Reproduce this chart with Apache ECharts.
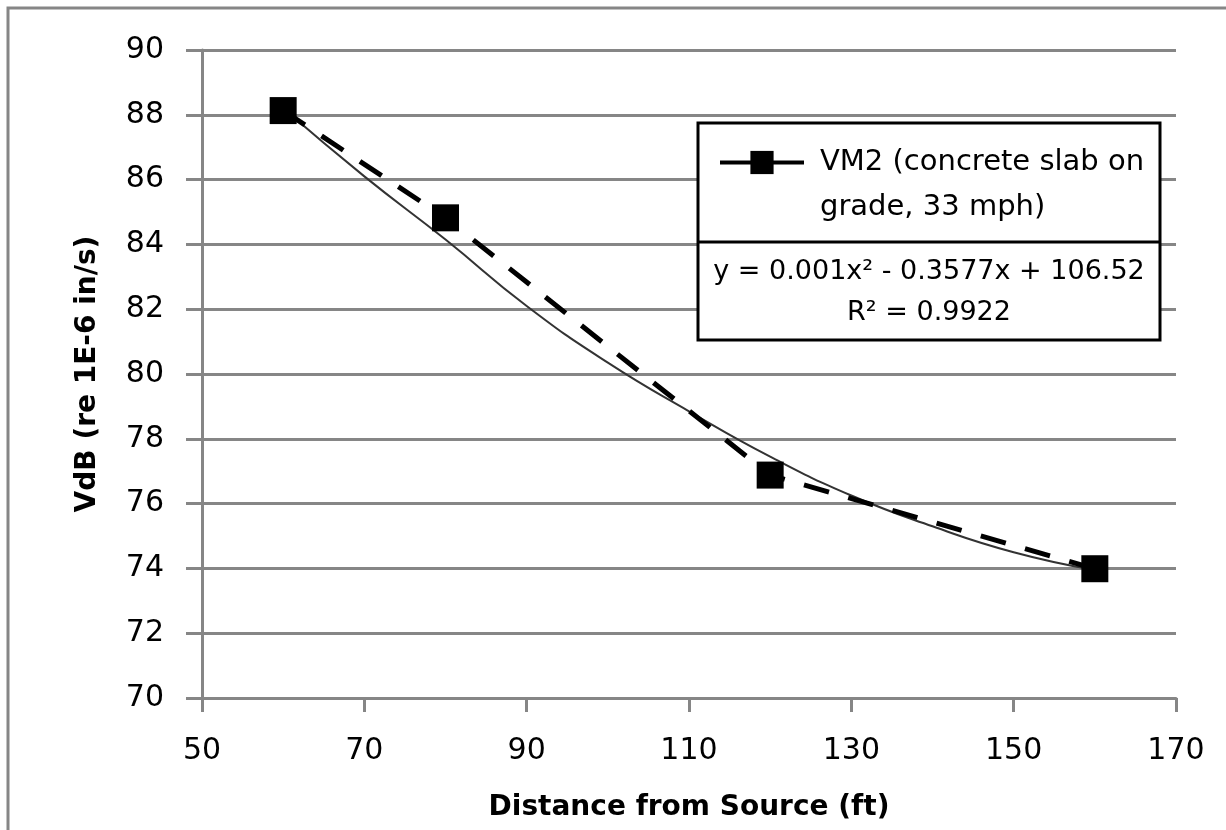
<!DOCTYPE html>
<html>
<head>
<meta charset="utf-8">
<script src="https://cdn.jsdelivr.net/npm/echarts@6/dist/echarts.min.js"></script>
<style>
html,body{margin:0;padding:0;background:#fff;}
#chart{width:1226px;height:830px;}
</style>
</head>
<body>
<div id="chart"></div>
<script>
// ---- data ----
const distances = [60, 80, 120, 160];
const vdb = [88.13, 84.82, 76.88, 73.99];
const trendX = [60, 70, 80, 90, 100, 110, 120, 130, 140, 150, 160];
const trendY = [88.2, 86.1, 84.15, 82.1, 80.35, 78.85, 77.45, 76.25, 75.3, 74.5, 73.95];
const xMin = 50, xMax = 170, xStep = 20;
const yMin = 70, yMax = 90, yStep = 2;
const seriesName = 'VM2 (concrete slab on grade, 33 mph)';
const legendLines = ['VM2 (concrete slab on', 'grade, 33 mph)'];
const trendEquation = 'y = 0.001x\u00B2 - 0.3577x + 106.52';
const rSquared = 'R\u00B2 = 0.9922';
const xTitle = 'Distance from Source (ft)';
const yTitle = 'VdB (re 1E-6 in/s)';

const FONT = 'DejaVu Sans';
const GRID = '#868686';

const chart = echarts.init(document.getElementById('chart'), null, {renderer: 'canvas'});

const option = {
  animation: false,
  backgroundColor: '#ffffff',
  textStyle: {fontFamily: FONT},
  grid: {left: 202, top: 50, right: 50, bottom: 132, containLabel: false},
  xAxis: {
    type: 'value', min: xMin, max: xMax, interval: xStep,
    name: xTitle, nameLocation: 'middle', nameGap: 96,
    nameTextStyle: {fontFamily: FONT, fontWeight: 'bold', fontSize: 28, color: '#000'},
    axisLine: {show: true, lineStyle: {color: GRID, width: 3}},
    axisTick: {show: true, length: 14, lineStyle: {color: GRID, width: 3}},
    axisLabel: {fontFamily: FONT, fontSize: 30, color: '#000', margin: 38},
    splitLine: {show: false}
  },
  yAxis: {
    type: 'value', min: yMin, max: yMax, interval: yStep,
    name: yTitle, nameLocation: 'middle', nameGap: 100, nameRotate: 90,
    nameTextStyle: {fontFamily: FONT, fontWeight: 'bold', fontSize: 28, color: '#000'},
    axisLine: {show: true, lineStyle: {color: GRID, width: 3}},
    axisTick: {show: true, length: 16, lineStyle: {color: GRID, width: 3}},
    axisLabel: {fontFamily: FONT, fontSize: 30, color: '#000', margin: 38},
    splitLine: {show: true, lineStyle: {color: GRID, width: 3}}
  },
  legend: {
    show: true,
    z: 30,
    data: [seriesName],
    left: 718, top: 95,
    padding: 0,
    itemWidth: 84, itemHeight: 29,
    formatter: () => '\n' + legendLines.join('\n'),
    textStyle: {fontFamily: FONT, fontSize: 29, color: '#000', lineHeight: 45, padding: [0, 0, 0, 11]},
    lineStyle: {type: [32, 8, 100], width: 4},
    selectedMode: false
  },
  series: [
    {
      name: 'trend',
      type: 'line',
      data: trendX.map((x, i) => [x, trendY[i]]),
      smooth: true,
      showSymbol: false,
      symbol: 'none',
      silent: true,
      lineStyle: {color: '#333333', width: 2},
      z: 2
    },
    {
      name: seriesName,
      type: 'line',
      data: distances.map((x, i) => [x, vdb[i]]),
      symbol: 'rect',
      symbolSize: 27,
      itemStyle: {color: '#000'},
      lineStyle: {color: '#000', width: 5, type: [26, 20], cap: 'butt'},
      z: 3
    }
  ],
  graphic: {
    elements: [
      {type: 'rect', shape: {x: 8, y: 8, width: 1240, height: 840}, style: {fill: 'none', stroke: GRID, lineWidth: 3}, silent: true, z: -10},
      {type: 'rect', shape: {x: 698, y: 123, width: 462, height: 217}, style: {fill: '#fff', stroke: '#000', lineWidth: 3}, z: 10},
      {type: 'line', shape: {x1: 698, y1: 242, x2: 1160, y2: 242}, style: {stroke: '#000', lineWidth: 3}, z: 11},
      {type: 'text', x: 929, y: 272, style: {text: trendEquation, fontFamily: FONT, fontSize: 27, fill: '#000', align: 'center', verticalAlign: 'middle'}, z: 11},
      {type: 'text', x: 929, y: 313, style: {text: rSquared, fontFamily: FONT, fontSize: 27, fill: '#000', align: 'center', verticalAlign: 'middle'}, z: 11}
    ]
  }
};
chart.setOption(option);
</script>
</body>
</html>
